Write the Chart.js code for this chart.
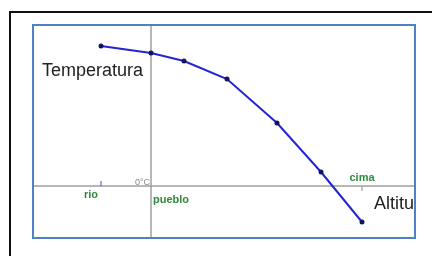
<!DOCTYPE html>
<html lang="es">
<head>
  <meta charset="UTF-8">
  <title>Temperatura y altitud</title>
  <script src="https://cdn.jsdelivr.net/npm/chart.js"></script>
  <style>
    body {
      margin: 0;
      background: #fff;
    }
    #grafica {
      display: block;
    }
  </style>
</head>
<body>

<canvas id="grafica" width="432" height="256"></canvas>

<script>
// altitud (m) y temperatura (°C)
const altitudes = [300, 500, 632, 804, 1004, 1180, 1344];
const temperaturas = [14.0, 13.3, 12.5, 10.7, 6.3, 1.4, -3.6];

// marcas del eje horizontal
const lugares = ['rio', 'pueblo', 'cima'];
const alturaLugares = [300, 500, 1344];

const ejeX = 500;   // el eje vertical pasa por el pueblo
const ejeY = 0;     // 0°C

const dibujo = {
  id: 'dibujo',
  beforeDraw(chart) {
    const ctx = chart.ctx;
    // marco negro exterior
    ctx.save();
    ctx.strokeStyle = '#111';
    ctx.lineWidth = 2;
    ctx.strokeRect(10, 12, 440, 260);
    ctx.restore();
  },
  beforeDatasetsDraw(chart) {
    const ctx = chart.ctx;
    const area = chart.chartArea;
    const x = chart.scales.x;
    const y = chart.scales.y;
    const px0 = x.getPixelForValue(ejeX);
    const py0 = y.getPixelForValue(ejeY);

    ctx.save();
    ctx.beginPath();
    ctx.rect(area.left, area.top, area.right - area.left, area.bottom - area.top);
    ctx.clip();

    // ejes
    ctx.strokeStyle = '#a0a0a0';
    ctx.lineWidth = 1.5;
    ctx.beginPath();
    ctx.moveTo(px0, area.top);
    ctx.lineTo(px0, area.bottom);
    ctx.moveTo(area.left, py0);
    ctx.lineTo(area.right, py0);
    ctx.stroke();

    // marcas rio y cima
    const pr = x.getPixelForValue(alturaLugares[0]);
    const pc = x.getPixelForValue(alturaLugares[2]);
    ctx.lineWidth = 1;
    ctx.strokeStyle = '#5050d0';
    ctx.beginPath();
    ctx.moveTo(pr, py0 - 5);
    ctx.lineTo(pr, py0);
    ctx.stroke();
    ctx.strokeStyle = '#909090';
    ctx.beginPath();
    ctx.moveTo(pc, py0);
    ctx.lineTo(pc, py0 + 5);
    ctx.stroke();

    // textos de los ejes
    ctx.fillStyle = '#222';
    ctx.font = '18px "Liberation Sans", Arial, sans-serif';
    ctx.textBaseline = 'alphabetic';
    ctx.textAlign = 'left';
    ctx.fillText('Temperatura', 42, 76);
    ctx.fillText('Altitud', 374, 209);

    ctx.fillStyle = '#888';
    ctx.font = '9px "Liberation Sans", Arial, sans-serif';
    ctx.textAlign = 'right';
    ctx.fillText('0°C', px0 - 1, py0 - 1);

    // nombres de los lugares
    ctx.fillStyle = '#2e8b3a';
    ctx.font = 'bold 11px "Liberation Sans", Arial, sans-serif';
    ctx.textAlign = 'center';
    ctx.fillText(lugares[0], pr - 10, py0 + 12);
    ctx.textAlign = 'left';
    ctx.fillText(lugares[1], px0 + 2, py0 + 17);
    ctx.textAlign = 'center';
    ctx.fillText(lugares[2], pc, py0 - 5);
    ctx.restore();
  },
  afterDraw(chart) {
    const ctx = chart.ctx;
    const area = chart.chartArea;
    // recuadro azul
    ctx.save();
    ctx.strokeStyle = '#4f81c7';
    ctx.lineWidth = 2;
    ctx.strokeRect(area.left, area.top, area.right - area.left, area.bottom - area.top);
    ctx.restore();
  }
};

new Chart(document.getElementById('grafica'), {
  type: 'line',
  data: {
    datasets: [{
      data: altitudes.map((a, i) => ({x: a, y: temperaturas[i]})),
      borderColor: '#2424d4',
      borderWidth: 2,
      pointRadius: 2.5,
      pointBackgroundColor: '#14145a',
      pointBorderColor: '#14145a',
      pointBorderWidth: 0,
      tension: 0,
      fill: false
    }]
  },
  options: {
    responsive: false,
    animation: false,
    layout: {padding: {left: 33, top: 25, right: 17, bottom: 18}},
    plugins: {legend: {display: false}, tooltip: {enabled: false}},
    scales: {
      x: {type: 'linear', min: 28, max: 1556, display: false},
      y: {type: 'linear', min: -5.2, max: 16.1, display: false}
    }
  },
  plugins: [dibujo]
});
</script>

</body>
</html>
